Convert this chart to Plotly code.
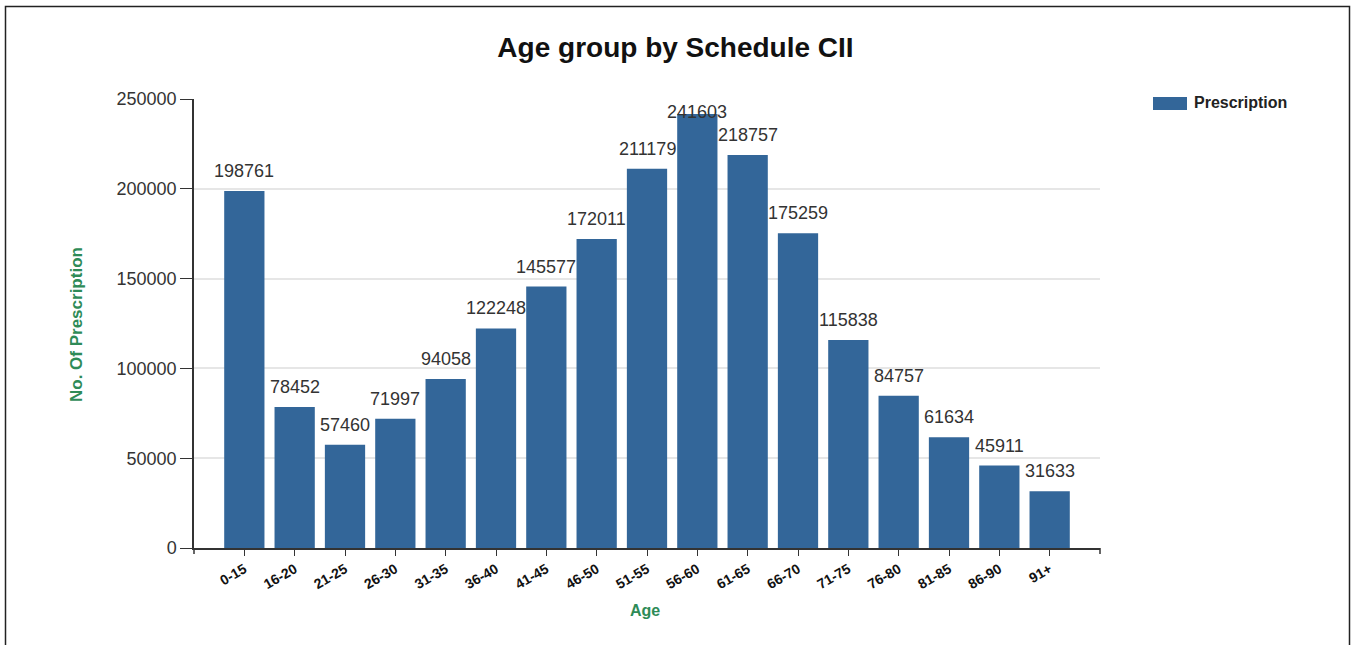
import plotly.graph_objects as go

# ---------------------------------------------------------------
# Data
# ---------------------------------------------------------------
age_groups = ["0-15", "16-20", "21-25", "26-30", "31-35", "36-40", "41-45",
              "46-50", "51-55", "56-60", "61-65", "66-70", "71-75", "76-80",
              "81-85", "86-90", "91+"]
prescriptions = [198761, 78452, 57460, 71997, 94058, 122248, 145577,
                 172011, 211179, 241603, 218757, 175259, 115838, 84757,
                 61634, 45911, 31633]
y_ticks = [0, 50000, 100000, 150000, 200000, 250000]

BAR_COLOR = "#336699"
GREEN = "#2e8b57"
AXIS_COLOR = "#333333"

# plot area in page pixels (page body margin removed below)
W, H = 1351, 645
PL, PR, PT, PB = 194, 1100, 99, 548
PW, PH = PR - PL, PB - PT


def px_x(x):
    return (x - PL) / PW


def px_y(y):
    return (PB - y) / PH


fig = go.Figure()

fig.add_trace(go.Bar(
    x=age_groups,
    y=prescriptions,
    name="Prescription",
    marker=dict(color=BAR_COLOR, line=dict(width=0)),
    width=0.8,
    showlegend=False,
))

# value labels above the bars (the tallest one is kept inside the top edge)
label_cap = 231600
for cat, val in zip(age_groups, prescriptions):
    fig.add_annotation(
        x=cat, y=min(val, label_cap), xref="x", yref="y",
        text=str(val), showarrow=False,
        xanchor="center", yanchor="middle", yshift=20,
        font=dict(family="Arial", size=18, color="#333333"),
    )

fig.update_layout(
    width=W,
    height=H,
    paper_bgcolor="white",
    plot_bgcolor="white",
    margin=dict(l=PL, r=W - PR, t=PT, b=H - PB),
    font=dict(family="Arial", color=AXIS_COLOR),
    title=dict(
        text="<b>Age group by Schedule CII</b>",
        x=0.5, xref="container", xanchor="center",
        y=1 - 47 / H, yref="container", yanchor="middle",
        font=dict(family="Arial", size=28, color="#111111"),
    ),
    showlegend=False,
    xaxis=dict(
        type="category",
        range=[-1, len(age_groups)],
        showline=True, linecolor=AXIS_COLOR, linewidth=1.5,
        ticks="outside", ticklen=6, tickcolor=AXIS_COLOR,
        tickangle=-30,
        tickvals=age_groups,
        ticktext=["<b>%s</b>" % a for a in age_groups],
        tickfont=dict(family="Arial", size=14, color="#111111"),
        showgrid=False,
    ),
    yaxis=dict(
        range=[0, 250000],
        tickvals=y_ticks,
        ticktext=[str(v) for v in y_ticks],
        showline=True, linecolor=AXIS_COLOR, linewidth=1.5,
        ticks="outside", ticklen=12, tickcolor=AXIS_COLOR,
        tickfont=dict(family="Arial", size=18, color="#333333"),
        showgrid=True, gridcolor="#e6e6e6", gridwidth=1.5,
        zeroline=False,
    ),
)

# axis titles
fig.add_annotation(
    x=px_x(76), y=px_y(325), xref="paper", yref="paper",
    text="<b>No. Of Prescription</b>", textangle=-90, showarrow=False,
    xanchor="center", yanchor="middle",
    font=dict(family="Arial", size=17, color=GREEN),
)
fig.add_annotation(
    x=px_x(645), y=px_y(610), xref="paper", yref="paper",
    text="<b>Age</b>", showarrow=False,
    xanchor="center", yanchor="middle",
    font=dict(family="Arial", size=16, color=GREEN),
)

# legend: wide swatch + bold label
fig.add_shape(type="rect", xref="paper", yref="paper",
              x0=px_x(1153), x1=px_x(1187), y0=px_y(110), y1=px_y(97),
              fillcolor=BAR_COLOR, line=dict(width=0))
fig.add_annotation(
    x=px_x(1192), y=px_y(103), xref="paper", yref="paper",
    text="<b>Prescription</b>", showarrow=False,
    xanchor="left", yanchor="middle",
    font=dict(family="Arial", size=16, color="#222222"),
)

# outer ticks at both ends of the x axis
for xp in (0, 1):
    fig.add_shape(type="line", xref="paper", yref="paper",
                  x0=xp, x1=xp, y0=0, y1=-6 / PH,
                  line=dict(color=AXIS_COLOR, width=1.5))

# frame around the whole chart
fig.add_shape(type="rect", xref="paper", yref="paper",
              x0=px_x(5.5), x1=px_x(1349.5), y0=px_y(660), y1=px_y(6.5),
              line=dict(color="#222222", width=1.5), fillcolor="rgba(0,0,0,0)",
              layer="below")

fig.write_html(
    "out.html",
    config={"displayModeBar": False},
    post_script="document.body.style.margin='0';",
)
